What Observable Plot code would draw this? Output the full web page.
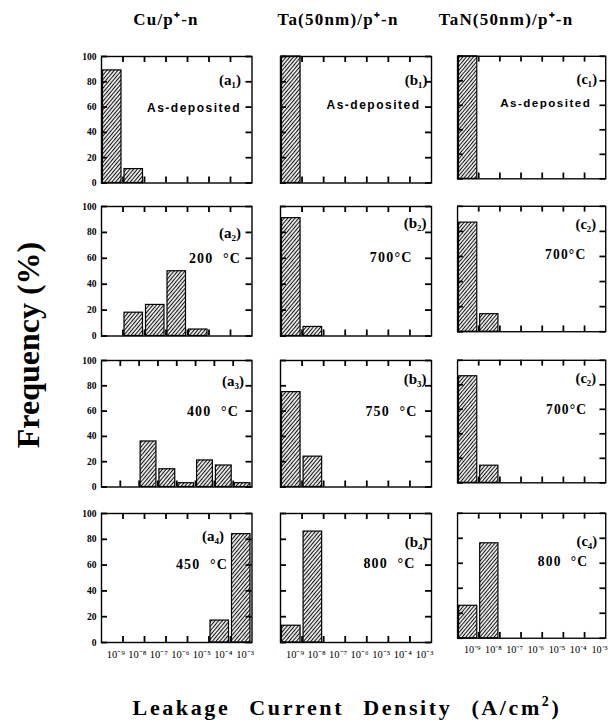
<!DOCTYPE html>
<html><head><meta charset="utf-8">
<script src="https://cdn.jsdelivr.net/npm/d3@7"></script>
<script src="https://cdn.jsdelivr.net/npm/@observablehq/plot@0.6"></script>
<style>
body{margin:0;background:#fff;}
#fig{position:relative;width:613px;height:722px;background:#fff;overflow:hidden;}
.panel{position:absolute;}
.coltitle{position:absolute;top:7px;font:bold 17px "Liberation Serif",serif;letter-spacing:1.2px;transform:translateX(-50%);white-space:nowrap;color:#000;}
.ylab{position:absolute;left:28px;top:345px;font:bold 32px "Liberation Serif",serif;transform:translate(-50%,-50%) rotate(-90deg);white-space:nowrap;color:#000;}
.xlab{position:absolute;left:347px;top:708px;font:bold 22px "Liberation Serif",serif;letter-spacing:2.6px;word-spacing:11px;transform:translate(-50%,-50%);white-space:nowrap;color:#000;}
.xlab sup{font-size:14px;vertical-align:0;position:relative;top:-9px;}
</style></head><body>
<svg width="0" height="0" style="position:absolute">
<defs><pattern id="hatch" patternUnits="userSpaceOnUse" width="2.8" height="2.8" patternTransform="rotate(40)">
<rect width="2.8" height="2.8" fill="#fff"/><line x1="1.4" y1="-1" x2="1.4" y2="3.8" stroke="#111" stroke-width="1.15"/></pattern></defs></svg>
<div id="fig"></div>
<script>
// ---- data ----
const columnTitles = ["Cu/p\u207A-n", "Ta(50nm)/p\u207A-n", "TaN(50nm)/p\u207A-n"];
const panelLabels = [
  ["(a\u2081)", "(b\u2081)", "(c\u2081)"],
  ["(a\u2082)", "(b\u2082)", "(c\u2082)"],
  ["(a\u2083)", "(b\u2083)", "(c\u2082)"],
  ["(a\u2084)", "(b\u2084)", "(c\u2084)"]
];
const conditions = [
  ["As-deposited", "As-deposited", "As-deposited"],
  ["200\u00A0\u00A0\u00B0C", "700\u00B0C", "700\u00B0C"],
  ["400\u00A0\u00A0\u00B0C", "750\u00A0\u00A0\u00B0C", "700\u00B0C"],
  ["450\u00A0\u00A0\u00B0C", "800\u00A0\u00A0\u00B0C", "800\u00A0\u00A0\u00B0C"]
];
// lower decade exponent of each bar's bin (bin = 10^e .. 10^(e+1) A/cm^2)
const cuBinLow = [[-10, -9], [-9, -8, -7, -6], [-9, -8, -7, -6, -5, -4], [-5, -4]];
const cuFreq   = [[89, 11], [18, 24, 50, 5], [36, 14, 3, 21, 17, 3], [17, 84]];
const taBinLow = [[-10], [-10, -9], [-10, -9], [-10, -9]];
const taFreq   = [[100], [91, 7], [75, 24], [13, 86]];
const tanBinLow = [[-10], [-10, -9], [-10, -9], [-10, -9]];
const tanFreq   = [[100], [87, 14], [87, 14], [26, 76]];
// axis extents (decade exponents) per panel
const cuAxisLow = [-10, -10, -11, -10];
const axisHigh = -3;
const xTickLabels = [-9, -8, -7, -6, -5, -4, -3];
const yTicks = [0, 20, 40, 60, 80, 100];

const binLows = [cuBinLow, taBinLow, tanBinLow];
const freqs = [cuFreq, taFreq, tanFreq];

// ---- layout ----
const colLeft = [101, 280, 458];
const colW = [150.5, 151, 153];
const rowTop = [55.5, 206, 359.5, 513];
const rowH = [126.5, 129.5, 126.5, 129];
const titleX = [166, 338, 506];
const labelPos = [ // [dx from right, dy from top]
  [[-11, 24], [-4, 24], [-9, 24]],
  [[-11, 27], [-5, 17], [-10, 19]],
  [[-8, 21], [-5, 19], [-10, 19]],
  [[-28, 23], [-4, 29], [-9, 29]]
];
const condPos = [
  [[-11, 52], [-11, 49], [-15, 49]],
  [[-11, 52], [-19, 51], [-20, 50]],
  [[-13, 51], [-14, 51], [-19, 51]],
  [[-24, 51], [-16, 50], [-18, 50]]
];
const mL = 30, mR = 8, mT = 6, mB = 24, tickLen = 6;

const supMap = {"-":"\u207B","0":"\u2070","1":"\u00B9","2":"\u00B2","3":"\u00B3","4":"\u2074","5":"\u2075","6":"\u2076","7":"\u2077","8":"\u2078","9":"\u2079"};
const fmtExp = e => "10" + String(e).split("").map(c => supMap[c]).join("");

const fig = document.getElementById("fig");
columnTitles.forEach((t, c) => {
  const d = document.createElement("div");
  d.className = "coltitle"; d.textContent = t; d.style.left = titleX[c] + "px";
  fig.appendChild(d);
});

for (let r = 0; r < 4; r++) {
  for (let c = 0; c < 3; c++) {
    const lo = c === 0 ? cuAxisLow[r] : -10;
    const data = binLows[c][r].map((e, i) => ({e, f: freqs[c][r][i]}));
    const interior = d3.range(lo + 1, axisHigh).map(e => 10 ** e);
    const isBottom = r === 3, isLeft = c === 0;
    const cond = conditions[r][c];
    const condSerif = cond !== "As-deposited";
    const W = colW[c], H = rowH[r];
    const tk = {stroke: "#000", strokeWidth: 1.8};
    const plot = Plot.plot({
      width: mL + W + mR,
      height: mT + H + mB,
      marginLeft: mL, marginRight: mR, marginTop: mT, marginBottom: mB,
      style: {fontFamily: "'Liberation Serif', serif", fontWeight: "bold", fontSize: "9px", overflow: "visible", background: "transparent", color: "#000"},
      x: {type: "log", domain: [10 ** lo, 10 ** axisHigh], axis: null},
      y: {domain: [0, 100], axis: null},
      marks: [
        Plot.rect(data, {x1: d => 10 ** d.e, x2: d => 10 ** (d.e + 1), y1: 0, y2: "f",
          fill: "url(#hatch)", stroke: "#000", strokeWidth: 1.2, insetLeft: 1.5, insetRight: 1.5}),
        Plot.frame({stroke: "#000", strokeWidth: 1.4}),
        // inward ticks on all four sides
        Plot.tickY(yTicks, {y: d => d, insetRight: W - tickLen, ...tk}),
        Plot.tickY(yTicks, {y: d => d, insetLeft: W - tickLen, ...tk}),
        Plot.tickX(interior, {x: d => d, insetBottom: H - tickLen, ...tk}),
        Plot.tickX(interior, {x: d => d, insetTop: H - tickLen, ...tk}),
        // tick labels
        Plot.text(isLeft ? yTicks : [], {y: d => d, text: d => String(d), frameAnchor: "left",
          textAnchor: "end", dx: -5, fontSize: 9.5, fontWeight: "bold"}),
        Plot.text(isBottom ? xTickLabels : [], {x: e => 10 ** e, text: fmtExp, frameAnchor: "bottom",
          textAnchor: "end", lineAnchor: "top", dx: 2, dy: 8, fontSize: 10.5, fontWeight: "normal"}),
        Plot.text([panelLabels[r][c]], {text: d => d, frameAnchor: "top-right", textAnchor: "end",
          lineAnchor: "middle", dx: labelPos[r][c][0], dy: labelPos[r][c][1], fontSize: 15, fontWeight: "bold",
          fontFamily: "'Liberation Serif', serif"}),
        Plot.text([cond], {text: d => d, frameAnchor: "top-right", textAnchor: "end",
          lineAnchor: "middle", dx: condPos[r][c][0], dy: condPos[r][c][1], fontSize: condSerif ? 14 : 12, fontWeight: "bold",
          fontFamily: condSerif ? "'Liberation Serif', serif" : "'Liberation Sans', sans-serif"})
      ]
    });
    // letter-spaced condition labels, as in the original typesetting
    plot.querySelectorAll("text").forEach(t => {
      if (t.textContent === cond) { t.style.letterSpacing = condSerif ? "1.2px" : "1.5px"; t.style.whiteSpace = "pre"; }
    });
    const wrap = document.createElement("div");
    wrap.className = "panel";
    wrap.style.left = (colLeft[c] - mL) + "px";
    wrap.style.top = (rowTop[r] - mT) + "px";
    wrap.appendChild(plot);
    fig.appendChild(wrap);
  }
}

const yl = document.createElement("div");
yl.className = "ylab"; yl.textContent = "Frequency (%)";
fig.appendChild(yl);
const xl = document.createElement("div");
xl.className = "xlab"; xl.innerHTML = "Leakage Current Density (A/cm<sup>2</sup>)";
fig.appendChild(xl);
</script>
</body></html>
